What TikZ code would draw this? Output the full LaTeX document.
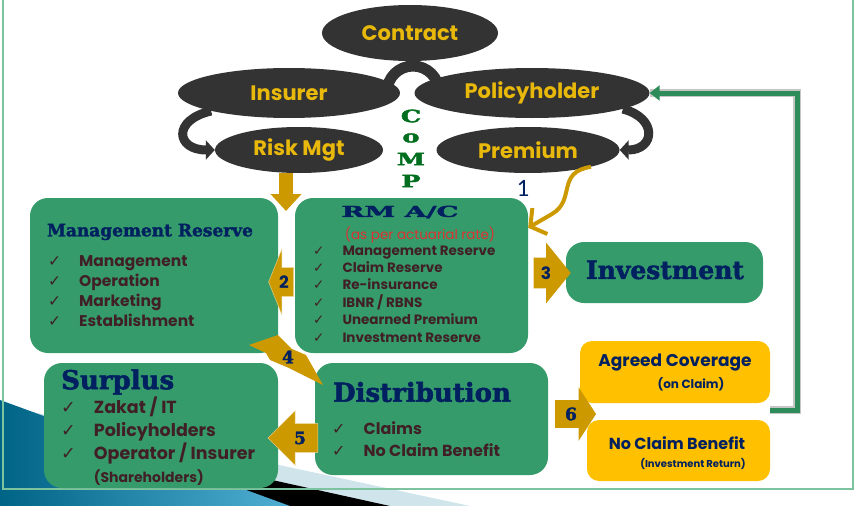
\documentclass[tikz,border=0pt]{standalone}
\usepackage{fontspec}
\usepackage{graphicx}
\usetikzlibrary{shapes.geometric,shapes.arrows,arrows.meta}
\newfontfamily\geofont{Poppins}
\newfontfamily\heavyfont{DejaVu Serif}[BoldFeatures={FakeBold=2}]
\newfontfamily\symfont{DejaVu Sans}
\newfontfamily\calfont{Carlito}
\definecolor{ellgray}{RGB}{51,51,51}
\definecolor{ellgold}{RGB}{232,184,10}
\definecolor{boxgreen}{RGB}{54,155,106}
\definecolor{navy}{RGB}{0,32,96}
\definecolor{maroon}{RGB}{64,32,38}
\definecolor{arrgold}{RGB}{204,153,0}
\definecolor{yelbox}{RGB}{255,192,0}
\definecolor{compgreen}{RGB}{0,110,30}
\definecolor{framegreen}{RGB}{125,195,160}
\definecolor{fbgreen}{RGB}{46,140,90}
\definecolor{lightteal}{RGB}{208,228,236}
\definecolor{tealdark}{RGB}{0,100,135}
\definecolor{teallight}{RGB}{80,175,210}
\definecolor{redtext}{RGB}{220,50,50}
\newcommand{\chk}{{\symfont\mdseries\char"2713}}

\begin{document}
\begin{tikzpicture}[x=1pt, y=-1pt,
	ell/.style={ellipse, fill=ellgray, inner sep=0pt, text=ellgold,
		font=\geofont\bfseries\fontsize{21}{24}\selectfont},
	box/.style={fill=boxgreen, rounded corners=18pt, inner sep=0pt},
	ybox/.style={fill=yelbox, rounded corners=12pt, inner sep=0pt},
	head/.style={text=navy, inner sep=0pt},
	items/.style={text=maroon, anchor=north west, inner sep=0pt},
	garrow/.style={single arrow, fill=arrgold, inner xsep=0pt, text=navy},
	comp/.style={text=compgreen, inner sep=0pt, font=\heavyfont\bfseries\fontsize{17}{17}\selectfont}]
	\useasboundingbox (0,0) rectangle (857,506);

	% corner swoosh
	\begin{scope}
		\clip (0,0) rectangle (857,506);
		\fill[lightteal] (0,405) -- (470,506) -- (0,506) -- cycle;
		\fill[black] (0,420) -- (390,506) -- (0,506) -- cycle;
		\shade[left color=tealdark, right color=teallight] (0,400) -- (290,506) -- (0,506) -- cycle;
	\end{scope}
	\draw[framegreen, line width=1.2pt] (3,0) -- (3,489) -- (853,489) -- (853,0);

	% top cluster
	\node[ell, minimum width=176pt, minimum height=56pt] (contract) at (410,33) {Contract};
	\node[ell, minimum width=222pt, minimum height=50pt] (insurer) at (289,93) {Insurer};
	\node[ell, minimum width=235pt, minimum height=50pt] (holder) at (532,93) {Policyholder};
	\node[ell, minimum width=168pt, minimum height=46pt] (riskmgt) at (299,150) {Risk Mgt};
	\node[ell, minimum width=183pt, minimum height=46pt] (premium) at (528,150) {Premium};
	\draw[ellgray, line width=11pt] (387,92) arc[start angle=180, end angle=360, radius=26];
	\foreach \ch/\yy in {C/116, o/138, M/159, P/181}
		\node[comp] (comp\ch) at (411,\yy) {\scalebox{1.5}[1]{\ch}};

	\draw[ellgray, line width=9pt, -{Triangle[length=9pt, width=19pt]}]
		(insurer.193) .. controls (172,120) and (176,150) .. (riskmgt.west);
	\draw[ellgray, line width=9pt, -{Triangle[length=9pt, width=19pt]}]
		(holder.-10) .. controls (658,118) and (655,150) .. (premium.east);

	% boxes
	\node[box, minimum width=248pt, minimum height=155pt] (mres) at (154,275.5) {};
	\node[box, minimum width=233pt, minimum height=155pt] (rmac) at (411.5,275.5) {};
	\node[box, minimum width=197pt, minimum height=61pt] (invest) at (664.5,272.5) {};
	\node[box, minimum width=234pt, minimum height=125pt] (surplus) at (161,425.5) {};
	\node[box, minimum width=233pt, minimum height=112pt] (distrib) at (431.5,419) {};
	\node[ybox, minimum width=190pt, minimum height=62pt] (agreed) at (675,372) {};
	\node[ybox, minimum width=183pt, minimum height=61pt] (noclaim) at (678.5,450.5) {};

	\node[head, font=\heavyfont\bfseries\fontsize{17}{17}\selectfont] (mreshead) at (150,232) {Management Reserve};
	\node[items, font=\geofont\bfseries\fontsize{15.5}{20}\selectfont] (mreslist) at (48,252)
		{\begin{tabular}{@{}l@{\hspace{18pt}}l@{}}
			\chk & Management\\ \chk & Operation\\ \chk & Marketing\\ \chk & Establishment
		\end{tabular}};

	\node[head, font=\heavyfont\bfseries\fontsize{15}{15}\selectfont] (rmachead) at (400,212) {\scalebox{1.85}[1]{RM A/C}};
	\node[text=redtext, font=\geofont\fontsize{13.5}{15}\selectfont] (rate) at (420,235) {(as per actuarial rate)};
	\node[items, font=\geofont\bfseries\fontsize{13.5}{17.2}\selectfont] (rmaclist) at (313,243)
		{\begin{tabular}{@{}l@{\hspace{18pt}}l@{}}
			\chk & Management Reserve\\ \chk & Claim Reserve\\ \chk & Re-insurance\\
			\chk & IBNR / RBNS\\ \chk & Unearned Premium\\ \chk & Investment Reserve
		\end{tabular}};

	\node[head, font=\heavyfont\bfseries\fontsize{25}{25}\selectfont] (investhead) at (665,270) {Investment};

	\node[head, anchor=west, font=\heavyfont\bfseries\fontsize{26}{26}\selectfont] (surphead) at (61,382) {Surplus};
	\node[items, font=\geofont\bfseries\fontsize{17.5}{22.7}\selectfont] (surplist) at (61,397)
		{\begin{tabular}{@{}l@{\hspace{18pt}}l@{}}
			\chk & Zakat / IT\\ \chk & Policyholders\\ \chk & Operator / Insurer\\
			& {\fontsize{14}{17}\selectfont(Shareholders)}
		\end{tabular}};

	\node[head, font=\heavyfont\bfseries\fontsize{26}{26}\selectfont] (disthead) at (422,392) {Distribution};
	\node[items, font=\geofont\bfseries\fontsize{16}{22}\selectfont] (distlist) at (332,419)
		{\begin{tabular}{@{}l@{\hspace{18pt}}l@{}}
			\chk & Claims\\ \chk & No Claim Benefit
		\end{tabular}};

	\node[head, font=\geofont\bfseries\fontsize{17}{17}\selectfont] (agreedtxt) at (675,363) {Agreed Coverage};
	\node[head, font=\geofont\bfseries\fontsize{12}{12}\selectfont] (onclaim) at (691,384) {(on Claim)};
	\node[head, font=\geofont\bfseries\fontsize{16}{16}\selectfont] (noclaimtxt) at (677,443) {No Claim Benefit};
	\node[head, font=\geofont\bfseries\fontsize{10}{10}\selectfont] (invreturn) at (693,464) {(Investment Return)};

	% gold arrows
	\coordinate (rmtip) at (286,211);
	\draw[arrgold, line width=14pt, -{Triangle[length=17pt, width=30pt]}] (riskmgt.south -| rmtip) -- (rmtip);
	\node[navy, font=\calfont\fontsize{25}{25}\selectfont] (one) at (523,188) {1};
	\draw[arrgold, line width=4pt, -{Straight Barb[length=11pt, width=30pt]}]
		(premium.-15) .. controls (556,172) and (576,200) .. (552,214) -- ([yshift=-30pt]rmac.north east);

	\node[garrow, shape border rotate=180, draw=arrgold!40!white, inner ysep=7.8pt, minimum height=25pt,
		single arrow head extend=18.5pt, single arrow tip angle=136,
		font=\geofont\bfseries\fontsize{17}{17}\selectfont] (ar2) at (284,282) {2};
	\node[garrow, inner ysep=8.8pt, minimum height=37pt,
		single arrow head extend=15pt, single arrow tip angle=102,
		font=\geofont\bfseries\fontsize{17}{17}\selectfont] (ar3) at (546,273) {3};
	\fill[arrgold] (249,345) -- (278,335) -- (292,349) -- (306,355) -- (323,385) -- (289,368) -- (270,360) -- (266,353) -- cycle;
	\node[navy, font=\heavyfont\bfseries\fontsize{17}{17}\selectfont] (n4) at (288,357) {4};
	\node[garrow, shape border rotate=180, draw=arrgold!40!white, inner ysep=7.8pt, minimum height=50pt,
		single arrow head extend=13pt, single arrow tip angle=90,
		font=\heavyfont\bfseries\fontsize{17}{17}\selectfont] (ar5) at (300,438) {5};
	\node[garrow, inner ysep=7.3pt, minimum height=41pt,
		single arrow head extend=13pt, single arrow tip angle=114,
		font=\heavyfont\bfseries\fontsize{17}{17}\selectfont] (ar6) at (571,414) {6};

	% feedback to policyholder
	\coordinate (fbstart) at (770,410);
	\coordinate (fbtop) at (797,93);
	\draw[gray!45, line width=8pt, xshift=2pt, yshift=-2pt] (fbstart) -| (fbtop) -- (holder.east);
	\draw[fbgreen, line width=5pt, -{Triangle[length=10pt, width=15pt]}] (fbstart) -| (fbtop) -- (holder.east);
\end{tikzpicture}
\end{document}
